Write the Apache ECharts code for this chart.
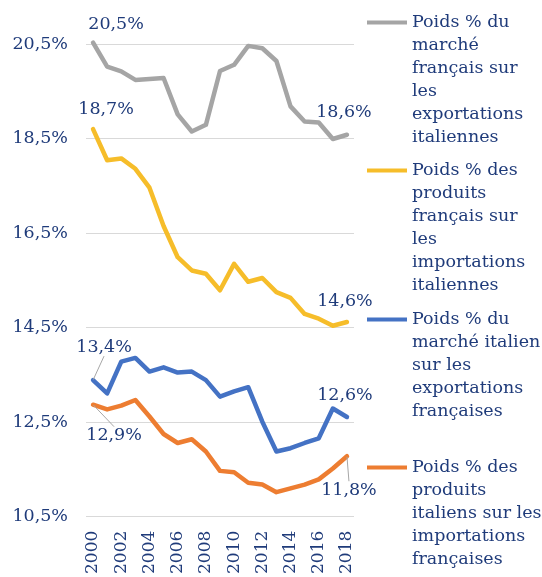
<!DOCTYPE html>
<html>
<head>
<meta charset="utf-8">
<script src="https://cdn.jsdelivr.net/npm/echarts@6/dist/echarts.min.js"></script>
<style>
  html, body { margin: 0; padding: 0; background: #fff; }
  #app { width: 542px; height: 577px; }
</style>
</head>
<body>
<div id="app"></div>
<script>
const years = ["2000", "2001", "2002", "2003", "2004", "2005", "2006", "2007", "2008", "2009",
  "2010", "2011", "2012", "2013", "2014", "2015", "2016", "2017", "2018"];

const yTicks = [10.5, 12.5, 14.5, 16.5, 18.5, 20.5];

// poids % du marché français sur les exportations italiennes
const marcheFr = [20.53, 20.02, 19.92, 19.74, 19.76, 19.78, 19.01, 18.65, 18.79, 19.93,
  20.06, 20.46, 20.41, 20.14, 19.18, 18.86, 18.84, 18.49, 18.58];
// poids % des produits français sur les importations italiennes
const produitsFr = [18.70, 18.04, 18.08, 17.86, 17.46, 16.65, 15.99, 15.71, 15.64, 15.29,
  15.85, 15.47, 15.55, 15.25, 15.13, 14.79, 14.69, 14.54, 14.62];
// poids % du marché italien sur les exportations françaises
const marcheIt = [13.39, 13.11, 13.78, 13.86, 13.57, 13.66, 13.55, 13.57, 13.39, 13.04,
  13.15, 13.24, 12.51, 11.88, 11.95, 12.06, 12.16, 12.79, 12.61];
// poids % des produits italiens sur les importations françaises
const produitsIt = [12.87, 12.77, 12.85, 12.97, 12.62, 12.25, 12.06, 12.14, 11.88, 11.47,
  11.44, 11.22, 11.18, 11.02, 11.10, 11.18, 11.29, 11.52, 11.78];

const names = [
  "Poids % du\nmarché\nfrançais sur\nles\nexportations\nitaliennes",
  "Poids % des\nproduits\nfrançais sur\nles\nimportations\nitaliennes",
  "Poids % du\nmarché italien\nsur les\nexportations\nfrançaises",
  "Poids % des\nproduits\nitaliens sur les\nimportations\nfrançaises"
];
const colors = ["#A5A5A5", "#F6BD2A", "#4472C4", "#ED7D31"];

const navy = "#1F3B7A";
const font = "DejaVu Serif";

// label offsets [first, last] and whether a leader line is drawn
const labelShift = [
  [[23, -18, false], [-3, -22, false]],
  [[13, -20, false], [-2, -21, false]],
  [[11, -33, true], [-2, -22, false]],
  [[21, 31, true], [2, 34, true]]
];

function pct(v) {
  return v.toFixed(1).replace(".", ",") + "%";
}

function buildData(values, s) {
  return values.map((v, i) => {
    const k = i === 0 ? 0 : (i === values.length - 1 ? 1 : -1);
    if (k < 0) return v;
    return {
      value: v,
      label: { show: true },
      labelLine: { show: labelShift[s][k][2] }
    };
  });
}

function lineSeries(values, s) {
  return {
    name: names[s],
    type: "line",
    data: buildData(values, s),
    clip: false,
    symbol: "circle",
    symbolSize: 1,
    itemStyle: { color: colors[s] },
    lineStyle: { width: 4.5, color: colors[s], cap: "round", join: "round" },
    label: {
      show: false,
      position: "inside",
      color: navy,
      fontFamily: font,
      fontSize: 17.5,
      formatter: p => pct(p.value)
    },
    labelLine: {
      show: false,
      length2: 0,
      lineStyle: { color: "#A6A6A6", width: 1 }
    },
    labelLayout: p => {
      const k = p.dataIndex === 0 ? 0 : 1;
      return { dx: labelShift[s][k][0], dy: labelShift[s][k][1] };
    },
    emphasis: { disabled: true }
  };
}

function legendIcon(lines) {
  const h = lines * 23;
  return "path://M0,0H0.05V0.05H0Z M0,9.5H40V13.5H0Z M39.95," + (h - 0.05) + "H40V" + h + "H39.95Z";
}

function legendFor(s, top, lines) {
  return {
    data: [{ name: names[s], itemStyle: { color: colors[s], borderWidth: 0 } }],
    orient: "vertical",
    left: 362,
    top: top,
    itemWidth: 40,
    itemHeight: lines * 23,
    icon: legendIcon(lines),
    symbolKeepAspect: false,
    selectedMode: false,
    textStyle: {
      color: navy,
      fontFamily: font,
      fontSize: 17.5,
      lineHeight: 23
    }
  };
}

const chart = echarts.init(document.getElementById("app"), null, { renderer: "canvas" });

chart.setOption({
  animation: false,
  grid: { left: 86, right: 188, top: 44, bottom: 58, containLabel: false },
  legend: [
    legendFor(0, 6, 6),
    legendFor(1, 154, 6),
    legendFor(2, 303, 5),
    legendFor(3, 451, 5)
  ],
  xAxis: {
    type: "category",
    data: years,
    boundaryGap: true,
    axisLine: { show: false },
    axisTick: { show: false },
    axisLabel: {
      interval: 1,
      rotate: 90,
      margin: 14,
      color: navy,
      fontFamily: font,
      fontSize: 17
    }
  },
  yAxis: {
    type: "value",
    min: yTicks[0],
    max: yTicks[yTicks.length - 1],
    interval: 2,
    axisLine: { show: false },
    axisTick: { show: false },
    splitLine: { lineStyle: { color: "#D9D9D9", width: 1 } },
    axisLabel: {
      margin: 18,
      color: navy,
      fontFamily: font,
      fontSize: 17.5,
      formatter: v => pct(v)
    }
  },
  series: [
    lineSeries(marcheFr, 0),
    lineSeries(produitsFr, 1),
    lineSeries(marcheIt, 2),
    lineSeries(produitsIt, 3)
  ]
});
</script>
</body>
</html>
